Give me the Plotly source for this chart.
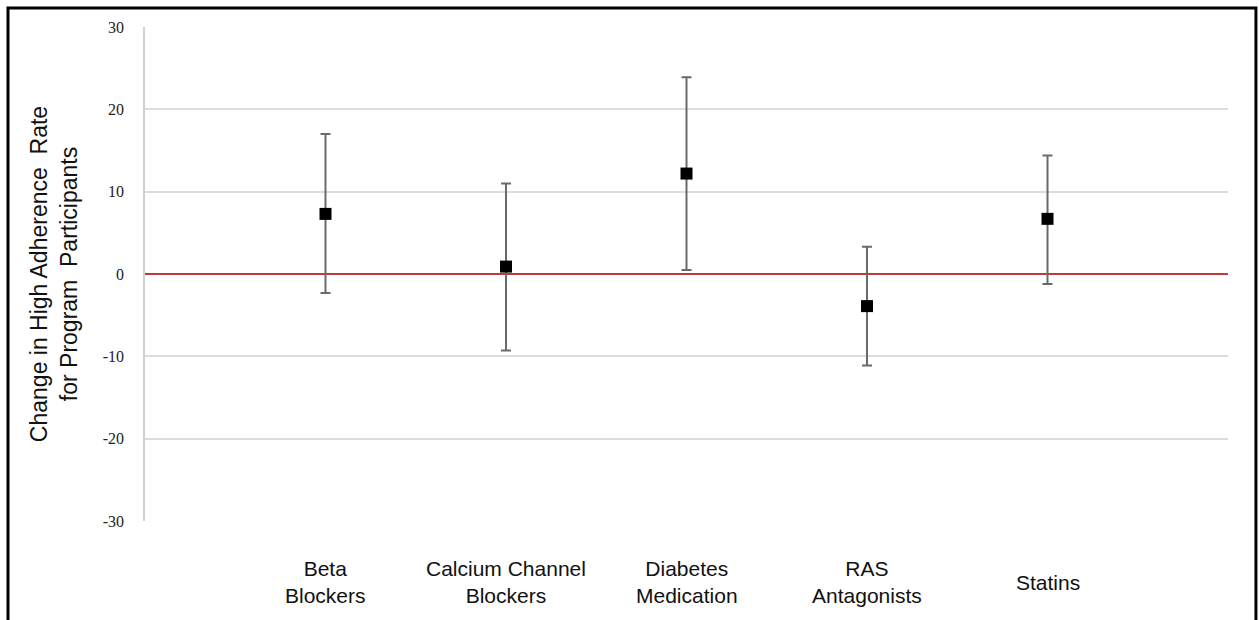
import plotly.graph_objects as go

categories = ["Beta<br>Blockers", "Calcium Channel<br>Blockers", "Diabetes<br>Medication",
              "RAS<br>Antagonists", "Statins"]
positions = [0, 1, 2, 3, 4]
estimates = [7.3, 0.9, 12.2, -3.9, 6.7]
upper = [17.0, 11.0, 23.9, 3.3, 14.4]
lower = [-2.3, -9.3, 0.5, -11.1, -1.2]
y_ticks = [-30, -20, -10, 0, 10, 20, 30]
y_tick_text = ["-30", "-20", "-10", "0", "10", "20", "30"]
x_range = [-1, 5]

err_plus = [u - e for u, e in zip(upper, estimates)]
err_minus = [e - l for e, l in zip(estimates, lower)]

fig = go.Figure()
# reference line at zero
fig.add_trace(go.Scatter(
    x=x_range, y=[0, 0], mode="lines",
    line=dict(color="#c23a36", width=2), showlegend=False, hoverinfo="skip",
))
fig.add_trace(go.Scatter(
    x=positions, y=estimates, mode="markers",
    marker=dict(symbol="square", size=12, color="black"),
    error_y=dict(type="data", symmetric=False, array=err_plus, arrayminus=err_minus,
                 color="#6a6a6a", thickness=2, width=5),
    showlegend=False,
))

annotations = [
    dict(x=p, y=-0.1235, xref="x", yref="paper", text=c, showarrow=False,
         xanchor="center", yanchor="middle", align="center",
         font=dict(family="Liberation Sans, Arial", size=21, color="#111"))
    for p, c in zip(positions, categories)
]

fig.update_layout(
    width=1259, height=620,
    margin=dict(l=145, r=31, t=27, b=99),
    paper_bgcolor="white", plot_bgcolor="white",
    annotations=annotations,
    xaxis=dict(range=x_range, tickvals=positions, showticklabels=False,
               showgrid=False, zeroline=False, showline=False, ticks=""),
    yaxis=dict(range=[-30, 30], tickvals=y_ticks, ticktext=y_tick_text,
               showgrid=True, gridcolor="#dcdcdc",
               gridwidth=1.5, zeroline=False, showline=True, linecolor="#d0d0d0", linewidth=1.5,
               ticks="", ticklabelstandoff=16,
               tickfont=dict(family="Liberation Serif, Times New Roman", size=16, color="#222"),
               title=dict(text="Change in High Adherence  Rate<br>for Program  Participants",
                          font=dict(family="Liberation Sans, Arial", size=23, color="#111"),
                          standoff=19)),
    shapes=[
        dict(type="rect", xref="paper", yref="paper", x0=-0.1265, x1=1.0258, y0=-0.3, y1=1.0385,
             line=dict(color="black", width=3), fillcolor="rgba(0,0,0,0)"),
    ],
)

fig.write_html("out.html")
